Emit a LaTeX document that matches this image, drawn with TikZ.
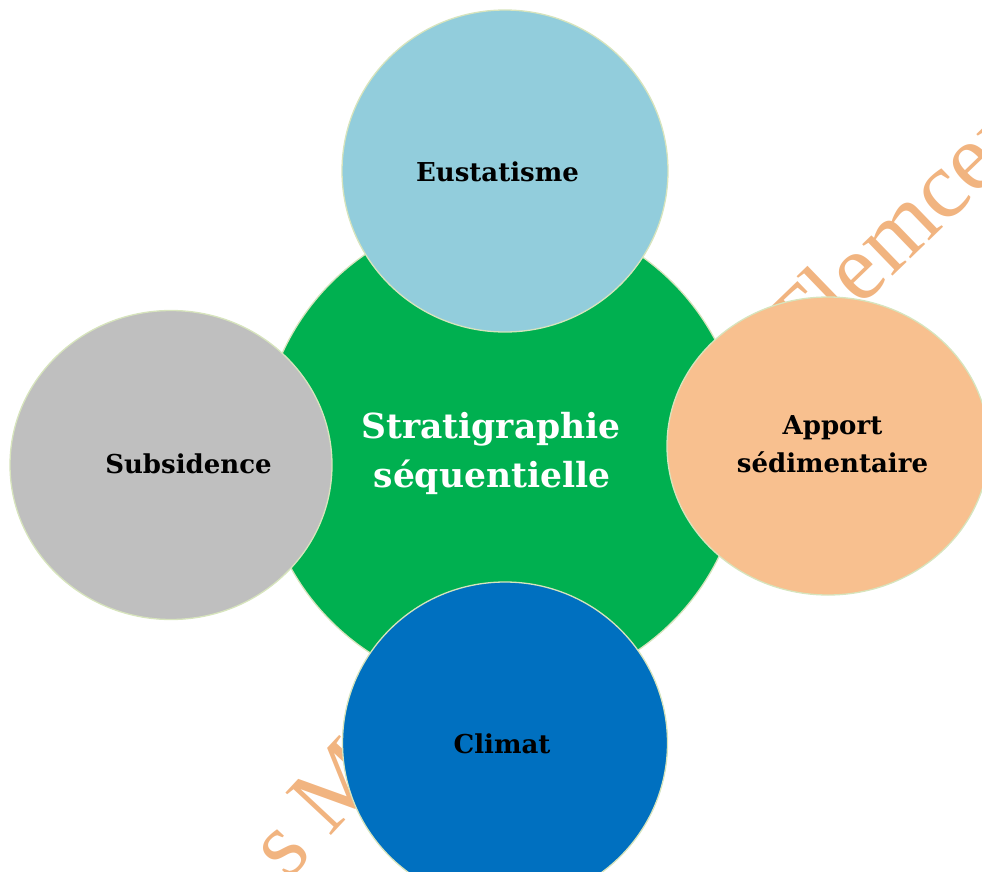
\documentclass[tikz,border=0pt]{standalone}
\usepackage{fontspec}
\setmainfont{DejaVu Serif}
\newfontfamily\wmfont{Liberation Serif}
\usetikzlibrary{shapes.geometric}
\definecolor{cgreen}{HTML}{00B050}
\definecolor{caqua}{HTML}{92CDDC}
\definecolor{cgray}{HTML}{BFBFBF}
\definecolor{cpeach}{HTML}{F8C08F}
\definecolor{cblue}{HTML}{0070C0}
\definecolor{cedge}{HTML}{D7E4BD}
\definecolor{wmorange}{RGB}{241,180,128}
\tikzset{
  bubble/.style={ellipse, draw=cedge, line width=1.3pt, inner sep=0pt},
  lbl/.style={font=\fontsize{26}{32}\selectfont\bfseries, text=black, inner sep=0pt, anchor=base},
  mainlbl/.style={font=\fontsize{34.5}{42}\selectfont\bfseries, text=white, inner sep=0pt, anchor=base},
  wm/.style={font=\wmfont\fontsize{95}{100}\selectfont, text=wmorange, inner sep=0pt, anchor=base west}
}
\begin{document}
\begin{tikzpicture}[x=1pt,y=-1pt]
\useasboundingbox (0,0) rectangle (982,872);
% watermark
\node[wm, rotate=44] (wmb) at (800,366) {Tlemcen};
\node[wm, rotate=47] (wma) at (288,882) {s M};
% central circle
\node[bubble, fill=cgreen, minimum width=482pt, minimum height=480pt] (center) at (502,452) {};
% satellites
\node[bubble, fill=caqua, minimum width=326pt, minimum height=322pt] (top) at (505,171) {};
\node[bubble, fill=cgray, minimum width=322pt, minimum height=309pt] (left) at (171,465) {};
\node[bubble, fill=cpeach, minimum width=322pt, minimum height=298pt] (right) at (828,446) {};
\node[bubble, fill=cblue, minimum width=325pt, minimum height=322pt] (bottom) at (505,743) {};
% labels
\node[mainlbl] (m1) at (491,438) {Stratigraphie};
\node[mainlbl] (m2) at (492,487) {séquentielle};
\node[lbl] (t1) at (497.5,181) {Eustatisme};
\node[lbl] (t2) at (188.5,473) {Subsidence};
\node[lbl] (t3) at (502,753) {Climat};
\node[lbl] (t4a) at (832.5,434) {Apport};
\node[lbl] (t4b) at (832.5,472) {sédimentaire};
\end{tikzpicture}
\end{document}
